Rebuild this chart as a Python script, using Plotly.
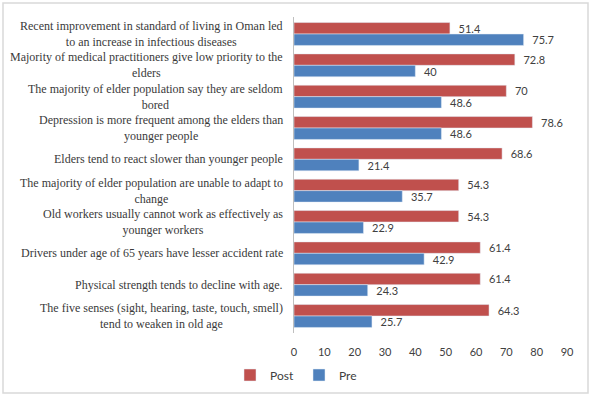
import plotly.graph_objects as go

categories = [
    "Recent improvement in standard of living in Oman led<br>to an increase in infectious diseases",
    "Majority of medical practitioners give low priority to the<br>elders",
    "The majority of elder population say they are seldom<br>bored",
    "Depression is more frequent among the elders than<br>younger people",
    "Elders tend to react slower than younger people",
    "The majority of elder population are unable to adapt to<br>change",
    "Old workers usually cannot work as effectively as<br>younger workers",
    "Drivers under age of 65 years have lesser accident rate",
    "Physical strength tends to decline with age.",
    "The five senses (sight, hearing, taste, touch, smell)<br>tend to weaken in old age",
]
post_values = [51.4, 72.8, 70, 78.6, 68.6, 54.3, 54.3, 61.4, 61.4, 64.3]
pre_values = [75.7, 40, 48.6, 48.6, 21.4, 35.7, 22.9, 42.9, 24.3, 25.7]
x_ticks = [0, 10, 20, 30, 40, 50, 60, 70, 80, 90]

W, H = 593, 399
ML, MR, MT, MB = 294, 26, 17, 66
pw, ph = W - ML - MR, H - MT - MB

label_font = dict(family="Lato, Carlito, Calibri, sans-serif", size=11, color="#404040")

fig = go.Figure()
fig.add_trace(go.Bar(
    name="Post", y=categories, x=post_values, orientation="h",
    marker=dict(color="#C0504D"),
    text=post_values, texttemplate="  %{x}", textposition="outside",
    textfont=label_font, constraintext="none", cliponaxis=False,
))
fig.add_trace(go.Bar(
    name="Pre", y=categories, x=pre_values, orientation="h",
    marker=dict(color="#4F81BD"),
    text=pre_values, texttemplate="  %{x}", textposition="outside",
    textfont=label_font, constraintext="none", cliponaxis=False,
))

annotations = []
for c in categories:
    annotations.append(dict(
        xref="paper", yref="y", x=(285 - ML) / pw, y=c,
        text=c, showarrow=False, xanchor="right", yanchor="middle",
        align="center",
        font=dict(family="Liberation Serif, Times New Roman, serif", size=12, color="#3a3a3a"),
    ))

fig.update_layout(
    width=W, height=H,
    margin=dict(l=ML, r=MR, t=MT, b=MB, autoexpand=False),
    paper_bgcolor="white", plot_bgcolor="white",
    barmode="group", bargap=0.27, bargroupgap=0,
    showlegend=True,
    legend=dict(
        orientation="h", xref="container", yref="container",
        x=230 / W, xanchor="left", y=1 - 375 / H, yanchor="middle",
        font=dict(family="Lato, Carlito, Calibri, sans-serif", size=12, color="#404040"),
        itemwidth=30, traceorder="normal",
        entrywidth=24, entrywidthmode="pixels",
        bgcolor="rgba(0,0,0,0)",
    ),
    xaxis=dict(
        range=[0, 90], tickvals=x_ticks, showgrid=False, zeroline=False,
        showline=False, ticks="outside", ticklen=9, tickcolor="rgba(0,0,0,0)",
        tickfont=dict(family="Lato, Carlito, Calibri, sans-serif", size=11, color="#404040"),
    ),
    yaxis=dict(
        autorange="reversed", showticklabels=False, showgrid=False,
        showline=True, linecolor="#bfbfbf", linewidth=1, ticks="",
    ),
    annotations=annotations,
    shapes=[dict(
        type="rect", xref="paper", yref="paper",
        x0=(3 - ML) / pw, x1=(588 - ML) / pw,
        y0=(H - MB - 393) / ph, y1=(H - MB - 3) / ph,
        line=dict(color="#d9d9d9", width=1.5), fillcolor="rgba(0,0,0,0)",
        layer="below",
    )],
)

fig.write_html(
    "out.html",
    config={"displayModeBar": False},
    post_script="document.body.style.margin='0';document.body.style.padding='0';",
)
